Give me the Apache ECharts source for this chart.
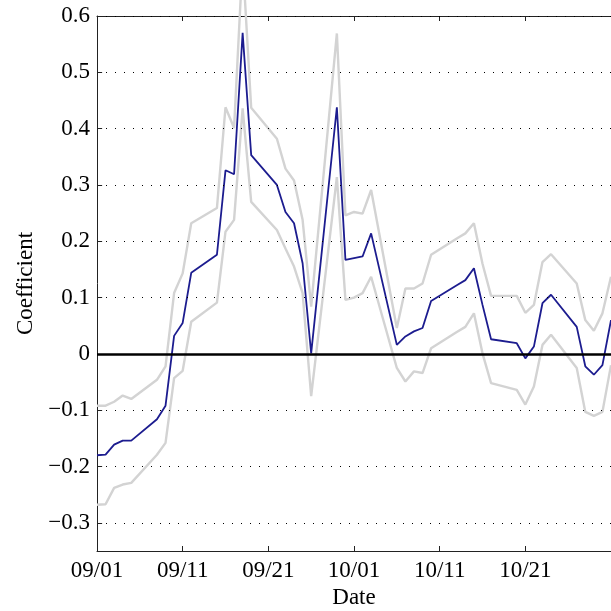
<!DOCTYPE html>
<html>
<head>
<meta charset="utf-8">
<script src="https://cdn.jsdelivr.net/npm/echarts@6/dist/echarts.min.js"></script>
<style>html,body{margin:0;padding:0;background:#fff}#c{width:611px;height:611px}</style>
</head>
<body>
<div id="c"></div>
<script>
// Trading dates (2008)
const dates = ['09/01','09/02','09/03','09/04','09/05','09/08','09/09','09/10','09/11','09/12',
  '09/15','09/16','09/17','09/18','09/19','09/22','09/23','09/24','09/25','09/26',
  '09/29','09/30','10/01','10/02','10/03','10/06','10/07','10/08','10/09','10/10',
  '10/13','10/14','10/15','10/16','10/17','10/20','10/21','10/22','10/23','10/24',
  '10/27','10/28','10/29','10/30','10/31'];
const coefficient = [-0.180,-0.179,-0.161,-0.154,-0.154,-0.116,-0.092,0.032,0.055,0.144,
  0.176,0.326,0.319,0.570,0.353,0.300,0.252,0.232,0.161,0.001,
  0.438,0.167,0.170,0.173,0.214,0.016,0.031,0.040,0.046,0.094,
  0.122,0.131,0.152,0.087,0.026,0.019,-0.008,0.013,0.090,0.105,
  0.048,-0.022,-0.037,-0.020,0.060];
const upperBand = [-0.092,-0.092,-0.085,-0.074,-0.080,-0.046,-0.022,0.108,0.143,0.232,
  0.259,0.438,0.401,0.700,0.437,0.382,0.329,0.308,0.238,0.084,
  0.569,0.246,0.252,0.249,0.291,0.046,0.116,0.116,0.125,0.176,
  0.205,0.214,0.232,0.160,0.103,0.103,0.073,0.087,0.163,0.177,
  0.125,0.060,0.041,0.072,0.137];
const lowerBand = [-0.268,-0.267,-0.238,-0.232,-0.229,-0.179,-0.158,-0.043,-0.030,0.057,
  0.091,0.217,0.238,0.436,0.270,0.220,0.187,0.155,0.108,-0.075,
  0.314,0.096,0.100,0.108,0.137,-0.025,-0.049,-0.031,-0.034,0.010,
  0.039,0.048,0.072,0.001,-0.052,-0.064,-0.090,-0.058,0.016,0.034,
  -0.025,-0.103,-0.110,-0.103,-0.020];
const xTickLabels = ['09/01','09/11','09/21','10/01','10/11','10/21','10/31'];
const yTicks = [-0.3,-0.2,-0.1,0,0.1,0.2,0.3,0.4,0.5,0.6];

const startDate = Date.UTC(2008, 8, 1);
function dayIndex(s) {
  const [m, d] = s.split('/').map(Number);
  return Math.round((Date.UTC(2008, m - 1, d) - startDate) / 86400000);
}
const xs = dates.map(dayIndex);
const pairs = arr => arr.map((v, i) => [xs[i], v]);
const FONT = 'Liberation Serif';
const FS = 23;

const chart = echarts.init(document.getElementById('c'), null, {renderer: 'canvas'});
chart.setOption({
  animation: false,
  backgroundColor: '#fff',
  grid: {left: 97, right: 0, top: 16, bottom: 60, containLabel: false, outerBoundsMode: 'none'},
  xAxis: [{
    type: 'value', min: 0, max: 60, interval: 10,
    name: 'Date', nameLocation: 'middle', nameGap: 33,
    nameTextStyle: {fontFamily: FONT, fontSize: FS, color: '#000'},
    axisLine: {show: true, onZero: false, lineStyle: {color: '#222', width: 1}},
    axisTick: {show: true, inside: true, length: 5, lineStyle: {color: '#222'}},
    axisLabel: {fontFamily: FONT, fontSize: FS, color: '#000', margin: 8, showMaxLabel: false,
      formatter: v => xTickLabels[Math.round(v / 10)] || ''},
    splitLine: {show: false}
  }, {
    type: 'value', position: 'top', min: 0, max: 60, interval: 10,
    axisLine: {show: true, onZero: false, lineStyle: {color: '#222', width: 1}},
    axisTick: {show: true, inside: true, length: 5, lineStyle: {color: '#222'}},
    axisLabel: {show: false}, splitLine: {show: false}
  }],
  yAxis: {
    type: 'value', min: -0.35, max: 0.6,
    name: 'Coefficient', nameLocation: 'middle', nameGap: 60,
    nameTextStyle: {fontFamily: FONT, fontSize: FS, color: '#000'},
    axisLine: {show: true, onZero: false, lineStyle: {color: '#222', width: 1}},
    axisTick: {show: true, inside: true, length: 5, customValues: yTicks, lineStyle: {color: '#222', width: 1}},
    axisLabel: {fontFamily: FONT, fontSize: FS, color: '#000', margin: 7, customValues: yTicks,
      formatter: v => (Math.abs(v) < 1e-9 ? '0' : (v < 0 ? '\u2212' + Math.abs(v).toFixed(1) : v.toFixed(1)))},
    splitLine: {show: false}
  },
  series: [{
    type: 'line', data: [], z: 1, silent: true,
    markLine: {
      symbol: 'none', silent: true, label: {show: false}, animation: false,
      lineStyle: {color: '#000', width: 1, type: [1, 8]},
      data: yTicks.filter(v => v !== 0).map(v => ({yAxis: v}))
    }
  }, {
    type: 'line', data: [], z: 1, silent: true,
    markLine: {
      symbol: 'none', silent: true, label: {show: false}, animation: false,
      lineStyle: {color: '#222', width: 1, type: 'solid'},
      data: yTicks.map(v => [{coord: [0, v]}, {coord: [0.6, v]}])
    }
  }, {
    type: 'line', data: pairs(upperBand), z: 2, clip: false, symbol: 'none',
    lineStyle: {color: '#d3d3d3', width: 2.4}
  }, {
    type: 'line', data: pairs(lowerBand), z: 2, clip: false, symbol: 'none',
    lineStyle: {color: '#d3d3d3', width: 2.4}
  }, {
    type: 'line', data: [], z: 3, silent: true,
    markLine: {
      symbol: 'none', silent: true, label: {show: false}, animation: false,
      lineStyle: {color: '#000', width: 2.5, type: 'solid'},
      data: [{yAxis: 0}]
    }
  }, {
    type: 'line', data: pairs(coefficient), z: 4, clip: false, symbol: 'none',
    lineStyle: {color: '#1c1c8f', width: 1.8}
  }]
});
</script>
</body>
</html>
